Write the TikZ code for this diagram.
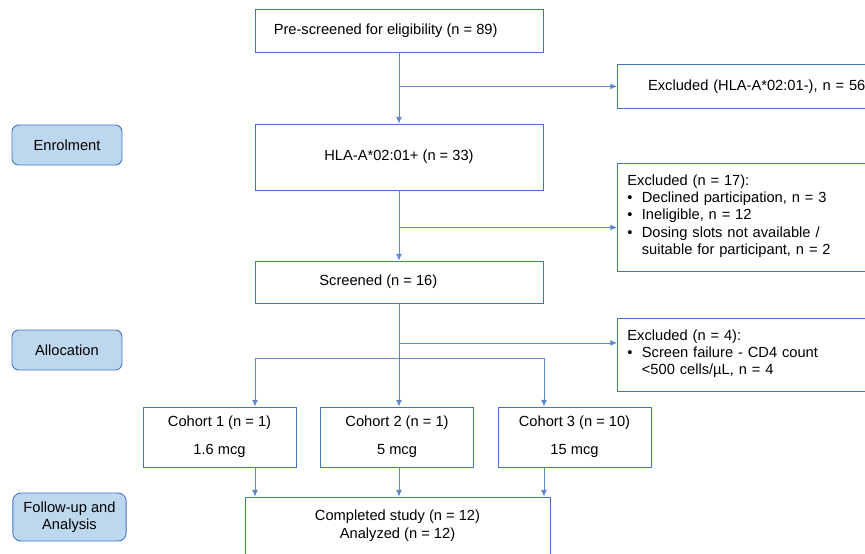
\documentclass[tikz,border=0pt]{standalone}
\usepackage{fontspec}
\setmainfont{Liberation Sans}
\usepackage{tikz}
\usetikzlibrary{positioning,arrows.meta}

\definecolor{boxblue}{RGB}{68,114,196}
\definecolor{stagefill}{RGB}{189,215,238}

\tikzset{
  box/.style={draw=boxblue, line width=0.65pt, align=center, font=\fontsize{11}{13.1}\selectfont},
  sidebox/.style={box, anchor=north west, align=left, text width=250pt, inner xsep=7.5pt, minimum width=250pt},
  stage/.style={box, fill=stagefill, rounded corners=5pt, minimum width=82.5pt, minimum height=30pt},
  line/.style={draw=boxblue!85, line width=0.65pt},
}

\begin{document}
\begin{tikzpicture}[x=0.75pt, y=-0.75pt, >={Latex[length=5pt,width=4.5pt]}]
        \useasboundingbox (0,0) rectangle (865,554);
        \clip (0,0) rectangle (865,554);

        % main column
        \node[box, minimum width=216pt, minimum height=32.25pt] at (399,30.5) (pre) {Pre-screened for eligibility (n = 89)\hspace{20pt}};
        \node[box, minimum width=216pt, minimum height=49.5pt] at (399,157) (hla) {HLA-A*02:01+ (n = 33)};
        \node[box, minimum width=216pt, minimum height=31.5pt] at (399,282) (scr) {Screened (n = 16)\hspace{31pt}};

        \node[box, minimum width=114.75pt, minimum height=45pt] at (219.5,437) (c1) {Cohort 1 (n = 1)\hspace{8pt}\\[8pt]1.6 mcg\hspace{8pt}};
        \node[box, minimum width=114.75pt, minimum height=45pt] at (397,437) (c2) {Cohort 2 (n = 1)\hspace{8pt}\\[8pt]5 mcg\hspace{8pt}};
        \node[box, minimum width=114.75pt, minimum height=45pt] at (574.5,437) (c3) {Cohort 3 (n = 10)\hspace{6pt}\\[8pt]15 mcg\hspace{8pt}};

        \node[box, minimum width=228.75pt, minimum height=43.5pt] at (397.5,526) (done) {Completed study (n = 12)\\[0.5pt]Analyzed (n = 12)};

        % exclusions
        \node[sidebox, minimum height=33pt, inner xsep=23pt] at (617,64) (exA) {Excluded (HLA-A*02:01-), n = 56};
        \node[sidebox, minimum height=81pt] at (617,163) (exB) {Excluded (n = 17):\\
          \begin{tabular}{@{}l@{\hspace{7pt}}l@{}}
            \textbullet & Declined participation, n = 3\\
            \textbullet & Ineligible, n = 12\\
            \textbullet & Dosing slots not available /\\
                        & suitable for participant, n = 2
          \end{tabular}};
        \node[sidebox, minimum height=54.75pt] at (617,318) (exC) {Excluded (n = 4):\\
          \begin{tabular}{@{}l@{\hspace{7pt}}l@{}}
            \textbullet & Screen failure - CD4 count\\
                        & <500 cells/µL, n = 4
          \end{tabular}};

        % stages
        \node[stage] at (67,145) (enrol) {Enrolment};
        \node[stage] at (67,350) (alloc) {Allocation};
        \node[stage, minimum width=85pt, minimum height=36pt, rounded corners=6pt] at (69.5,517) (follow) {Follow-up and\\Analysis};

        % connectors
        \coordinate (split) at (399,358);
        \coordinate (exBin) at ([yshift=-7.5pt]exB.west);
        \coordinate (exCin) at ([yshift=9pt]exC.west);
        \coordinate (c1in) at ([xshift=26.6pt]c1.north);
        \coordinate (c1out) at ([xshift=26.6pt]c1.south);
        \coordinate (c3in) at ([xshift=-22.9pt]c3.north);
        \coordinate (c3out) at ([xshift=-22.9pt]c3.south);
        \draw[line, ->] (pre) -- (hla);
        \draw[line, ->] (pre.south |- exA.west) -- (exA.west);
        \draw[line, ->] (hla) -- (scr);
        \draw[line, ->] (hla.south |- exBin) -- (exBin);
        \draw[line] (scr) -- (split);
        \draw[line, ->] (scr.south |- exCin) -- (exCin);
        \draw[line, ->] (split) -| (c1in);
        \draw[line, ->] (split) -- (split |- c2.north);
        \draw[line, ->] (split) -| (c3in);
        \draw[line, ->] (c1out) -- (c1out |- done.north);
        \draw[line, ->] (split |- c2.south) -- (split |- done.north);
        \draw[line, ->] (c3out) -- (c3out |- done.north);
    \end{tikzpicture}
\end{document}
